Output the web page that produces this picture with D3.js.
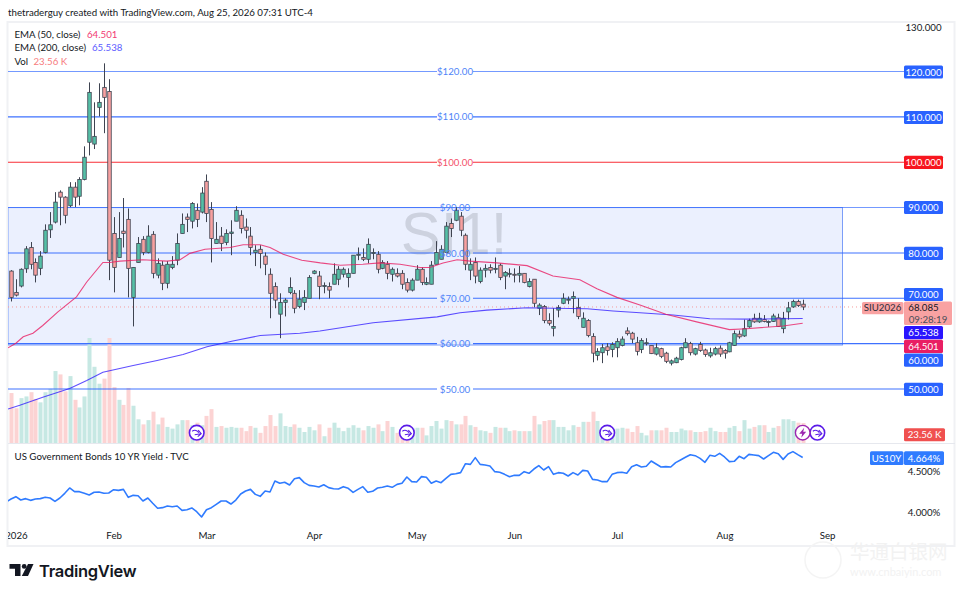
<!DOCTYPE html>
<html>
<head>
<meta charset="utf-8">
<script src="https://cdn.jsdelivr.net/npm/d3@7"></script>
<style>
  html, body { margin: 0; padding: 0; background: #fff; }
  svg { display: block; }
  text { font-family: Lato, "Noto Sans", sans-serif; }
</style>
</head>
<body>
<svg id="chart" width="964" height="596"></svg>
<script>
'use strict';

// silver futures, daily candles, one entry per trading day
const candleOpen = [
  76.0,71.3,72.7,76.5,81.2,77.9,76.6,80.1,85.1,86.8,
  93.4,92.3,90.4,94.5,92.5,96.2,104.4,104.0,112.1,116.5,
  115.6,84.3,79.0,84.8,87.4,70.2,77.9,83.0,80.1,84.1,
  75.1,77.3,73.3,76.8,78.4,84.3,87.9,87.0,89.4,89.0,
  95.8,89.6,82.1,83.7,82.3,84.3,87.0,88.3,85.7,83.7,
  80.1,80.8,79.3,75.3,72.6,66.5,69.1,71.3,71.1,68.2,
  69.1,70.0,75.5,74.9,72.6,72.6,73.1,74.2,75.3,74.6,
  75.5,79.5,79.0,78.6,79.9,79.7,76.6,77.5,75.3,75.5,
  75.5,73.5,71.8,74.0,76.4,73.1,73.1,77.5,78.6,80.1,
  86.5,87.2,88.1,83.9,76.2,77.9,73.7,76.2,76.8,76.4,
  77.3,74.9,75.3,75.3,75.1,75.5,72.6,74.2,67.8,68.2,
  65.1,63.4,67.4,68.9,69.6,70.0,68.0,63.6,65.1,61.6,
  57.4,58.0,59.3,58.7,59.1,59.6,62.8,62.3,60.2,58.7,
  60.1,59.6,57.7,58.9,57.9,55.7,55.8,56.5,59.1,60.0,
  57.7,59.8,58.6,57.3,57.7,59.0,58.5,58.2,59.6,62.1,
  61.7,63.7,65.6,64.8,65.3,64.7,64.9,65.7,63.3,67.0,
  68.1,69.3,68.7];
const candleHigh = [
  76.2,74.2,76.6,81.5,82.4,78.8,80.4,86.3,89.0,93.4,
  93.8,92.5,95.6,95.6,96.7,103.5,117.6,113.2,117.4,121.8,
  118.3,87.9,89.0,92.1,89.8,76.8,83.5,83.7,86.1,84.8,
  78.8,78.2,78.2,79.3,84.3,88.7,88.7,91.2,90.9,94.5,
  97.3,91.2,86.8,85.7,85.2,87.2,90.3,89.4,87.6,85.7,
  81.7,81.7,80.1,76.6,73.5,71.1,70.0,74.6,71.8,71.8,
  71.8,75.1,76.2,76.0,73.5,73.5,77.7,77.1,76.8,76.6,
  79.5,81.2,81.0,83.2,81.0,80.4,78.4,78.2,76.8,76.6,
  76.2,74.4,74.4,77.3,76.8,74.6,78.2,82.6,81.7,86.8,
  87.6,90.1,89.0,84.3,78.8,79.0,76.8,77.5,77.5,79.0,
  77.7,76.0,76.6,76.6,77.1,75.5,74.4,74.2,68.9,68.5,
  66.7,67.8,68.5,71.1,70.4,71.5,70.0,66.9,65.4,62.3,
  59.0,59.9,60.1,60.3,61.2,61.6,63.6,62.6,61.5,61.2,
  61.2,59.6,60.1,59.1,58.2,56.5,57.1,59.3,61.2,60.4,
  59.1,60.4,58.9,59.1,59.3,59.6,58.8,60.4,62.9,62.9,
  65.3,65.5,66.6,66.8,66.3,65.1,66.6,66.6,67.0,69.2,
  69.7,69.7,69.7];
const candleLow = [
  69.3,70.4,72.4,75.6,76.4,73.5,75.1,79.9,83.3,86.5,
  86.1,86.5,90.1,90.1,90.5,96.0,101.5,102.9,110.1,106.4,
  74.0,71.3,79.0,81.2,70.2,63.8,77.9,79.5,79.9,74.4,
  74.4,71.8,72.2,76.4,77.3,84.3,84.6,85.4,85.7,88.7,
  86.8,77.9,82.1,80.4,81.7,79.5,87.0,84.3,83.2,79.5,
  77.1,76.6,75.1,65.6,67.8,61.2,66.0,70.9,66.7,67.8,
  67.4,70.0,75.3,69.8,71.1,70.0,73.1,72.9,74.6,72.4,
  75.5,78.4,78.2,77.7,78.6,75.5,76.4,74.2,73.7,74.6,
  72.0,71.3,71.5,74.0,72.9,72.9,73.1,77.5,78.6,79.9,
  83.5,87.0,83.7,76.2,74.0,73.3,73.3,74.6,75.5,75.5,
  74.0,72.0,74.6,73.5,73.5,73.3,72.4,68.0,66.3,64.5,
  64.0,61.6,65.8,68.7,68.7,66.7,65.4,63.6,61.4,55.9,
  56.3,55.7,57.4,57.0,57.0,59.4,61.8,60.1,57.4,57.9,
  59.6,57.7,57.4,56.8,55.7,55.2,55.7,56.3,59.0,57.4,
  57.4,58.2,57.1,56.9,57.4,57.1,56.7,58.1,59.5,61.1,
  61.5,63.5,64.6,64.6,64.7,63.7,64.8,63.7,62.3,65.3,
  67.9,68.1,67.4];
const candleClose = [
  70.2,70.7,76.4,80.9,77.5,75.1,79.3,85.0,86.2,91.2,
  92.3,88.3,94.5,92.3,96.2,101.1,115.4,105.7,113.2,114.3,
  78.4,76.8,83.2,84.3,76.6,76.8,82.1,80.1,83.7,75.5,
  77.7,73.3,77.5,77.5,82.1,86.3,87.4,90.9,87.4,93.2,
  88.7,83.2,83.0,82.1,84.3,84.6,89.4,85.4,85.0,81.2,
  80.6,79.9,77.5,71.1,69.6,69.1,69.6,72.4,67.8,69.8,
  70.2,74.6,76.0,72.6,72.8,71.8,75.3,76.4,76.4,75.5,
  79.5,79.7,78.6,81.9,80.1,76.4,77.9,75.5,76.4,74.9,
  73.1,71.8,74.0,76.4,73.5,73.5,77.3,80.1,80.8,85.9,
  85.4,89.4,85.0,77.5,77.5,74.9,76.2,76.6,76.2,76.6,
  74.6,75.7,75.5,75.1,75.5,73.5,73.7,68.9,68.5,65.1,
  64.5,63.8,68.0,70.0,69.8,70.4,66.0,65.6,61.8,57.9,
  58.3,59.1,58.5,59.8,60.5,61.0,62.2,61.0,58.3,60.7,
  60.2,57.8,59.1,57.2,56.1,56.2,56.8,59.1,60.2,58.0,
  58.9,58.5,57.6,58.0,58.9,57.7,57.9,60.2,62.2,61.5,
  63.3,65.1,64.8,65.6,64.9,64.9,66.1,63.8,65.6,67.9,
  69.3,68.4,68.085];
// volume in thousands
const volumes = [
  59,41,53,55,60,52,48,60,64,85,
  81,61,79,51,42,55,124,90,70,76,
  124,66,51,45,65,44,28,22,27,37,
  22,30,19,17,22,27,27,21,24,21,
  32,40,19,20,18,19,18,18,14,20,
  18,12,20,33,20,35,20,19,22,18,
  13,19,15,22,8,18,24,18,14,18,
  21,18,15,20,18,22,14,26,19,12,
  13,18,18,18,18,9,20,26,17,27,
  26,22,22,32,21,19,15,14,12,19,
  18,18,14,15,14,14,14,32,22,26,
  27,27,19,19,15,21,19,25,25,37,
  26,19,18,18,17,18,17,13,20,12,
  9,15,15,15,18,13,13,17,15,15,
  13,13,14,18,14,13,13,18,20,14,
  27,17,19,21,21,13,18,20,28,28,
  26,24,23.56];

// moving averages, read at the bends of each line
const ema50Days = [-0.6,1,2.5,4.5,6.5,9.6,13.4,15.5,18.8,20.2,22.3,27,31.9,34.6,36.6,39.7,44.8,47.5,51,53,55.7,59.5,63.3,67.4,72,75.5,79.6,83.7,85.7,88.4,91.3,94,99.4,105.6,110.9,116.4,119.9,124,128.7,134,140.3,147,150.5,158,162];
const ema50Values = [59.1,60.1,61.5,62.3,64.0,67.0,70.3,73.6,77.9,77.9,78.2,78.5,78.2,78.5,79.9,80.8,81.2,81.8,81.8,81.2,79.7,78.4,77.8,77.3,77.5,77.8,77.5,76.8,76.8,77.8,78.5,78.2,77.8,77.2,74.9,74.1,72.1,70.2,68.5,66.5,64.8,63.1,63.3,63.9,64.501];
const ema200Days = [-0.6,1.8,6.5,12,15.5,18.8,25,29.9,35.2,40.1,45.4,51,59.1,63.2,74.1,87.2,91.9,97.4,105.6,110.9,117.9,123.2,128.7,135.5,143,151.2,162];
const ema200Values = [45.6,46.4,48.2,50.1,51.9,53.7,55.2,56.3,57.6,59.3,60.6,61.8,62.3,62.8,64.6,65.9,66.8,67.4,67.9,67.8,67.7,67.2,66.8,66.3,65.5,65.4,65.538];

// US10Y daily close, first value belongs to the day before the first candle
const yieldValues = [
  4.122,4.158,4.187,4.146,4.163,4.142,4.158,4.163,4.179,4.171,4.130,4.171,4.228,4.293,4.248,4.248,4.228,4.207,4.240,4.244,
  4.228,4.232,4.272,4.264,4.276,4.179,4.203,4.199,4.134,4.171,4.106,4.045,4.053,4.073,4.065,4.073,4.020,4.028,4.049,4.004,
  3.939,4.028,4.053,4.093,4.134,4.134,4.097,4.146,4.219,4.256,4.276,4.215,4.191,4.256,4.244,4.378,4.350,4.362,4.329,4.406,
  4.419,4.358,4.325,4.317,4.305,4.333,4.297,4.284,4.280,4.309,4.289,4.240,4.276,4.309,4.240,4.252,4.293,4.301,4.317,4.301,
  4.337,4.350,4.427,4.370,4.366,4.431,4.423,4.350,4.378,4.358,4.410,4.459,4.467,4.480,4.589,4.581,4.663,4.581,
  4.573,4.561,4.492,4.484,4.459,4.431,4.447,4.447,4.492,4.472,4.524,4.565,4.512,4.553,4.459,4.480,4.472,4.439,4.480,4.451,
  4.508,4.500,4.398,4.390,4.370,4.370,4.459,4.480,4.484,4.472,4.553,4.577,4.549,4.557,4.622,4.585,4.549,4.553,4.549,4.602,
  4.634,4.667,4.699,4.687,4.654,4.606,4.691,4.679,4.715,4.671,4.614,4.618,4.679,4.650,4.703,4.695,4.687,4.646,4.687,4.728,
  4.711,4.642,4.707,4.736,4.699,4.664];

const levels = [120, 110, 100, 90, 80, 70, 60, 50];
const boxLevels = [90, 59.7];
const monthTicks = [1, 21, 40, 62, 83, 103, 124, 146, 167];
const monthLabels = ['2026', 'Feb', 'Mar', 'Apr', 'May', 'Jun', 'Jul', 'Aug', 'Sep'];
const yieldTicks = [4.5, 4.0];
const eventDays = [38, 81, 122, 165];
const earningsDay = 162;

const BLUE = '#2962ff', RED = '#f7161f', TEAL = '#55bfa6', SALMON = '#f7a0a0', WICK = '#3e4350';
const PINK = '#e91e63', INDIGO = '#2a14ff', PURPLE = '#5a1be8';
const PLOT_L = 8, PLOT_R = 904, PLOT_T = 22, PANE_B = 443, FRAME_R = 955, FRAME_B = 546;
const FONT = 'Lato, "Noto Sans", sans-serif', FS = '9.7px';

const svg = d3.select('#chart');
const x = d3.scaleLinear().domain([0, 162]).range([11, 802.7]);
const y = d3.scaleLinear().domain([50, 120]).range([389, 71.5]);
const yVol = d3.scaleLinear().domain([0, 124]).range([443, 338]);
const yYield = d3.scaleLinear().domain([4.0, 4.5]).range([512, 471]);

const defs = svg.append('defs');
defs.append('clipPath').attr('id', 'mainClip').append('rect')
  .attr('x', PLOT_L).attr('y', PLOT_T).attr('width', PLOT_R - PLOT_L).attr('height', PANE_B - PLOT_T);
defs.append('clipPath').attr('id', 'yieldClip').append('rect')
  .attr('x', PLOT_L).attr('y', PANE_B).attr('width', PLOT_R - PLOT_L).attr('height', 90);
defs.append('clipPath').attr('id', 'axisClip').append('rect')
  .attr('x', PLOT_L).attr('y', PANE_B).attr('width', FRAME_R - PLOT_L).attr('height', FRAME_B - PANE_B);

// Frame
svg.append('rect').attr('x', PLOT_L - 0.5).attr('y', PLOT_T)
  .attr('width', FRAME_R - PLOT_L).attr('height', FRAME_B - PLOT_T)
  .attr('fill', 'none').attr('stroke', '#f0f1f4').attr('stroke-width', 2);
svg.append('line').attr('x1', PLOT_L).attr('x2', FRAME_R).attr('y1', PANE_B + 0.5).attr('y2', PANE_B + 0.5)
  .attr('stroke', '#e6e8ee').attr('stroke-width', 1);

const main = svg.append('g').attr('clip-path', 'url(#mainClip)');

// Shaded range
main.append('rect')
  .attr('x', PLOT_L).attr('y', y(boxLevels[0]))
  .attr('width', 842.5 - PLOT_L).attr('height', y(boxLevels[1]) - y(boxLevels[0]))
  .attr('fill', '#ebf0fe').attr('stroke', '#7c9ef8').attr('stroke-width', 1);

// Ticker watermark
main.append('text').attr('x', 454).attr('y', 253.5).attr('text-anchor', 'middle')
  .style('font-family', '"Liberation Sans", sans-serif').style('font-size', '60px')
  .attr('fill', '#787b86').attr('fill-opacity', 0.26).text('SI1!');

// Volume bars
main.append('g').selectAll('rect').data(volumes).join('rect')
  .attr('x', (d, i) => Math.round(x(i)) - 1.5)
  .attr('y', d => yVol(d))
  .attr('width', 4)
  .attr('height', d => yVol(0) - yVol(d))
  .attr('fill', (d, i) => candleClose[i] >= candleOpen[i] ? '#c6e8e3' : '#fcd3d3');

// Horizontal levels, broken around the price label
const GAP = 18, LABEL_X = 455;
const levelGroup = main.append('g');
levels.forEach(function(level) {
  const c = level === 100 ? RED : BLUE;
  [[PLOT_L, LABEL_X - GAP], [LABEL_X + GAP, PLOT_R]].forEach(function(seg) {
    levelGroup.append('line')
      .attr('x1', seg[0]).attr('x2', seg[1])
      .attr('y1', y(level)).attr('y2', y(level))
      .attr('stroke', c).attr('stroke-opacity', level === 120 || level === 90 ? 0.65 : 0.9)
      .attr('stroke-width', 1.1);
  });
});
levelGroup.append('line').attr('x1', LABEL_X - GAP).attr('x2', LABEL_X + GAP)
  .attr('y1', y(90)).attr('y2', y(90)).attr('stroke', BLUE).attr('stroke-opacity', 0.6);

// Last price dotted line
main.append('line').attr('x1', PLOT_L).attr('x2', 862)
  .attr('y1', y(68.085)).attr('y2', y(68.085))
  .attr('stroke', '#f59c9c').attr('stroke-dasharray', '1,3');

// Candles
const candles = main.append('g').selectAll('g').data(candleClose).join('g');
candles.append('line')
  .attr('x1', (d, i) => Math.round(x(i)) + 0.5).attr('x2', (d, i) => Math.round(x(i)) + 0.5)
  .attr('y1', (d, i) => y(candleHigh[i])).attr('y2', (d, i) => y(candleLow[i]))
  .attr('stroke', WICK).attr('stroke-width', 1);
candles.append('rect')
  .attr('x', (d, i) => Math.round(x(i)) - 1.25)
  .attr('y', (d, i) => y(Math.max(candleOpen[i], d)))
  .attr('width', 3.5)
  .attr('height', (d, i) => Math.max(1, Math.abs(y(candleOpen[i]) - y(d))))
  .attr('fill', (d, i) => d >= candleOpen[i] ? TEAL : SALMON)
  .attr('stroke', WICK).attr('stroke-width', 0.8);

// EMAs
const emaLine = d3.line().x(d => x(d[0])).y(d => y(d[1]));
main.append('path').attr('d', emaLine(d3.zip(ema200Days, ema200Values)))
  .attr('fill', 'none').attr('stroke', INDIGO).attr('stroke-opacity', 0.75).attr('stroke-width', 1.1);
main.append('path').attr('d', emaLine(d3.zip(ema50Days, ema50Values)))
  .attr('fill', 'none').attr('stroke', PINK).attr('stroke-opacity', 0.8).attr('stroke-width', 1.1);

// Level labels on the lines
svg.append('g').selectAll('text').data(levels).join('text')
  .attr('x', LABEL_X).attr('y', d => y(d) + 3.6).attr('text-anchor', 'middle')
  .style('font-size', FS)
  .attr('fill', d => d === 100 ? '#f4506a' : '#4f84f8')
  .text(d => '$' + d3.format('.2f')(d));

// Event markers over the volume pane
const markerY = 432.7;
const events = svg.append('g').selectAll('g').data(eventDays).join('g')
  .attr('transform', d => 'translate(' + x(d) + ',' + markerY + ')');
events.append('circle').attr('r', 7.3).attr('fill', '#fff').attr('stroke', PURPLE).attr('stroke-width', 1.6);
events.append('path').attr('d', 'M-4.5,-1.5 C-2,-3.5 1,-2 2,0 M-2,2 L4,1 M1.5,-2.5 L4.5,1 L1,4')
  .attr('fill', 'none').attr('stroke', PURPLE).attr('stroke-width', 1.1);
const bolt = svg.append('g').attr('transform', 'translate(' + x(earningsDay) + ',' + markerY + ')');
bolt.append('circle').attr('r', 7.3).attr('fill', '#fff').attr('stroke', '#9c27b0').attr('stroke-width', 1.4);
bolt.append('path').attr('d', 'M1.5,-5 L-3.5,1 L-0.5,1 L-1.5,5 L3.5,-1 L0.5,-1 Z').attr('fill', '#9c27b0');

// Right side tags
function tag(g, x0, x1, yTop, yBot, fill) {
  g.append('rect').attr('x', x0).attr('y', yTop).attr('width', x1 - x0).attr('height', yBot - yTop)
    .attr('rx', 1.5).attr('fill', fill);
}
function tagText(g, xc, yc, str, fill) {
  g.append('text').attr('x', xc).attr('y', yc + 3.6).attr('text-anchor', 'middle')
    .style('font-size', FS).attr('fill', fill).text(str);
}
const tags = svg.append('g');
const TAG_L = 904, TAG_R = 943, TAG_C = 923.5;
[[120, 72], [110, 117.5], [100, 162.3], [90, 207.5], [80, 253.3], [70, 294.5], [60, 360.2], [50, 389.3]].forEach(function(t) {
  tag(tags, TAG_L, TAG_R, t[1] - 6.6, t[1] + 6.6, t[0] === 100 ? '#f7161f' : BLUE);
  tagText(tags, TAG_C, t[1], d3.format('.3f')(t[0]), '#fff');
});
tag(tags, 862, 903.5, 302, 314.2, '#f9a2a2');
tagText(tags, 882.5, 307.8, 'SIU2026', '#2a2e39');
tag(tags, 904, 952, 301.5, 325, '#f9a2a2');
tagText(tags, 923.5, 307.5, '68.085', '#131722');
tagText(tags, 928, 319, '09:28:19', '#4a4e59');
tag(tags, TAG_L, TAG_R, 326, 339.3, INDIGO);
tagText(tags, TAG_C, 332.5, '65.538', '#fff');
tag(tags, TAG_L, TAG_R, 339.8, 353, PINK);
tagText(tags, TAG_C, 346.4, '64.501', '#fff');
tag(tags, TAG_L, 945, 428.3, 441.3, '#f0504f');
tagText(tags, 924.5, 434.8, '23.56 K', '#fff');

// Price axis: only the top label sits free of a tag
const priceAxis = d3.axisRight(d3.scaleLinear().domain([120, 130]).range([71.5, 27]))
  .tickValues([130]).tickFormat(d3.format('.3f')).tickSize(0);
const priceG = svg.append('g').attr('transform', 'translate(' + TAG_L + ',0)').call(priceAxis);
priceG.select('.domain').remove();
priceG.selectAll('text').attr('x', 19.5).attr('text-anchor', 'middle')
  .style('font-family', FONT).style('font-size', FS).attr('fill', '#131722');

// Legend
const legendRows = [
  [34, 'EMA (50, close)', '64.501', 87, '#f23a73'],
  [47.5, 'EMA (200, close)', '65.538', 92, '#5c5cff'],
  [61, 'Vol', '23.56 K', 33.5, '#f77c80']
];
legendRows.forEach(function(r) {
  svg.append('text').attr('x', 14.5).attr('y', r[0] + 3.5).style('font-size', FS).attr('fill', '#131722').text(r[1]);
  svg.append('text').attr('x', r[3]).attr('y', r[0] + 3.5).style('font-size', FS).attr('fill', r[4]).text(r[2]);
});

svg.append('text').attr('x', 8).attr('y', 15.5).style('font-size', FS).attr('fill', '#131722')
  .text('thetraderguy created with TradingView.com, Aug 25, 2026 07:31 UTC-4');

// Yield pane
svg.append('text').attr('x', 14.5).attr('y', 459.5).style('font-size', FS).attr('fill', '#131722')
  .text('US Government Bonds 10 YR Yield \u00b7 TVC');
const yieldLine = d3.line().x((d, i) => x(i - 1)).y(d => yYield(d));
svg.append('path').attr('clip-path', 'url(#yieldClip)').attr('d', yieldLine(yieldValues))
  .attr('fill', 'none').attr('stroke', '#2f7bff').attr('stroke-width', 1.6).attr('stroke-linejoin', 'round');
tag(tags, 870, 903.5, 451.3, 465, '#2f7bff');
tagText(tags, 886.5, 458, 'US10Y', '#fff');
tag(tags, 904, 944, 451.3, 465, '#2f7bff');
tagText(tags, 924, 458, '4.664%', '#fff');
const yieldAxis = d3.axisRight(yYield).tickValues(yieldTicks).tickFormat(d => d3.format('.3f')(d) + '%').tickSize(0);
const yieldG = svg.append('g').attr('transform', 'translate(' + TAG_L + ',0)').call(yieldAxis);
yieldG.select('.domain').remove();
yieldG.selectAll('text').attr('x', 20).attr('text-anchor', 'middle')
  .style('font-family', FONT).style('font-size', FS).attr('fill', '#131722');

// Time axis
const timeAxis = d3.axisBottom(x).tickValues(monthTicks).tickSize(0)
  .tickFormat((d, i) => monthLabels[i]);
const timeG = svg.append('g').attr('clip-path', 'url(#axisClip)')
  .append('g').attr('transform', 'translate(0,532)').call(timeAxis);
timeG.select('.domain').remove();
timeG.selectAll('text').attr('y', 0).attr('dy', '0.71em')
  .style('font-family', FONT).style('font-size', FS).attr('fill', '#131722');

// TradingView logo
const logo = svg.append('g').attr('fill', '#131722');
logo.append('path').attr('d', 'M9.5,564 H20.5 V576 H15 V568.8 H9.5 Z');
logo.append('circle').attr('cx', 24.2).attr('cy', 566.4).attr('r', 2.4);
logo.append('path').attr('d', 'M28,564 H33.5 L28,576 H21.8 Z');
logo.append('text').attr('x', 39).attr('y', 577).style('font-family', 'Inter, sans-serif')
  .style('font-size', '16.5px').style('font-weight', 600).style('letter-spacing', '-0.3px').text('TradingView');

// Site stamp, bottom right
const stamp = svg.append('g').attr('fill', '#f2f2f2');
stamp.append('circle').attr('cx', 823).attr('cy', 560).attr('r', 18).attr('fill', 'none')
  .attr('stroke', '#f4f4f4').attr('stroke-width', 1.5);
stamp.append('text').attr('x', 850).attr('y', 559).style('font-family', '"Noto Sans CJK SC", sans-serif')
  .style('font-size', '19.5px').text('华通白银网');
stamp.append('text').attr('x', 850).attr('y', 576).style('font-size', '11px').text('www.cnbaiyin.com');
</script>
</body>
</html>
